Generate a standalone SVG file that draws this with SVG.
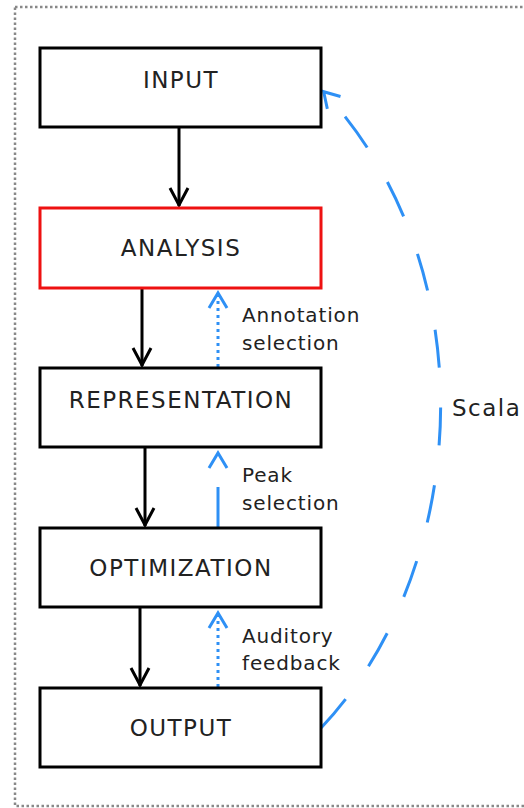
<svg xmlns="http://www.w3.org/2000/svg" width="524" height="808" viewBox="0 0 524 808">
<defs>
<style>
.box{fill:#fff;stroke:#000;stroke-width:3}
.red{stroke:#ee1111}
.lbl{font-family:"DejaVu Sans",sans-serif;font-size:23px;letter-spacing:1.5px;fill:#222;text-anchor:middle}
.note{font-family:"DejaVu Sans",sans-serif;font-size:20px;letter-spacing:0.85px;fill:#222}
.blk{fill:none;stroke:#000;stroke-width:3;marker-end:url(#ab)}
.blu{fill:none;stroke:#2e90f5;stroke-width:3;marker-end:url(#au)}
</style>
<marker id="ab" viewBox="-20 -12 24 24" markerWidth="24" markerHeight="24" markerUnits="userSpaceOnUse" refX="0" refY="0" orient="auto">
<path d="M-18,-9 L-1,0 L-18,9" fill="none" stroke="#000" stroke-width="3"/>
</marker>
<marker id="au" viewBox="-20 -12 24 24" markerWidth="24" markerHeight="24" markerUnits="userSpaceOnUse" refX="0" refY="0" orient="auto">
<path d="M-16,-9 L-1,0 L-16,9" fill="none" stroke="#2e90f5" stroke-width="3"/>
</marker>
</defs>
<rect x="15" y="7" width="520" height="799" fill="none" stroke="#888" stroke-width="2.5" stroke-dasharray="2.5 2.5"/>
<g id="connectors">
<line class="blk" x1="179" y1="128" x2="179" y2="206"/>
<line class="blk" x1="142" y1="289" x2="142" y2="366"/>
<line class="blk" x1="145" y1="448" x2="145" y2="526"/>
<line class="blk" x1="140" y1="608" x2="140" y2="686"/>
<line class="blu" x1="218" y1="367" x2="218" y2="292" stroke-dasharray="3 4"/>
<line class="blu" x1="218" y1="527" x2="218" y2="452" stroke-dasharray="40 35"/>
<line class="blu" x1="218" y1="687" x2="218" y2="612" stroke-dasharray="3 4"/>
<path class="blu" d="M321,728 C470,570 490,270 323,91" stroke-dasharray="38 40"/>
</g>
<g id="input"><rect class="box" x="40" y="48" width="281" height="79"/><text class="lbl" x="181" y="88">INPUT</text></g>
<g id="analysis"><rect class="box red" x="40" y="208" width="281" height="80"/><text class="lbl" x="181" y="256">ANALYSIS</text></g>
<g id="representation"><rect class="box" x="40" y="368" width="281" height="79"/><text class="lbl" x="181" y="408">REPRESENTATION</text></g>
<g id="optimization"><rect class="box" x="40" y="528" width="281" height="79"/><text class="lbl" x="181" y="576">OPTIMIZATION</text></g>
<g id="output"><rect class="box" x="40" y="688" width="281" height="79"/><text class="lbl" x="181" y="736">OUTPUT</text></g>
<g id="labels">
<text class="note" x="242" y="322">Annotation</text>
<text class="note" x="242" y="350">selection</text>
<text class="note" x="242" y="482">Peak</text>
<text class="note" x="242" y="510">selection</text>
<text class="note" x="242" y="643">Auditory</text>
<text class="note" x="242" y="670">feedback</text>
<text class="lbl" x="452" y="416" style="text-anchor:start">Scala</text>
</g>
</svg>
